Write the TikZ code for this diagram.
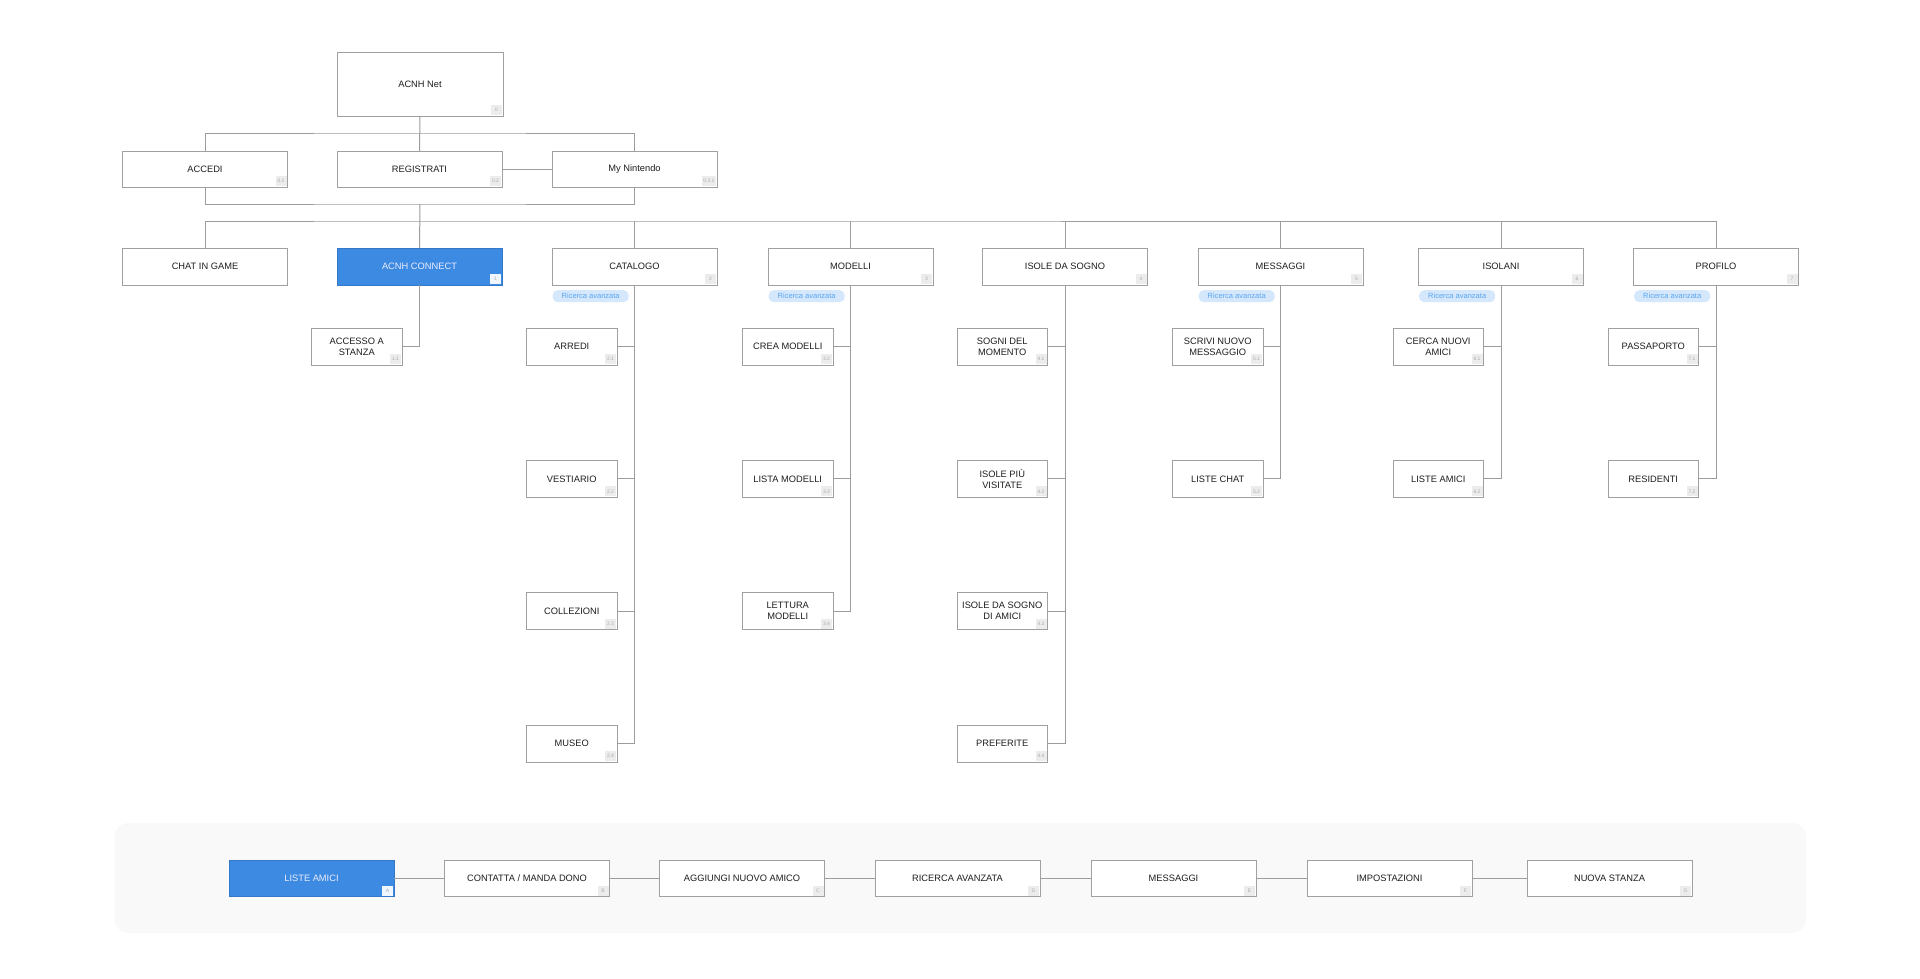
\documentclass[tikz,border=0pt]{standalone}
\usepackage{fontspec}
\setmainfont{Liberation Sans}
\definecolor{linegray}{HTML}{9C9C9C}
\definecolor{boxborder}{HTML}{A0A0A0}
\definecolor{bluefill}{HTML}{3C8AE1}
\definecolor{blueborder}{HTML}{3478C8}
\definecolor{tagfill}{HTML}{ECECEC}
\definecolor{tagtext}{HTML}{ABABAB}
\definecolor{pillfill}{HTML}{D5E7FB}
\definecolor{pilltext}{HTML}{5AA6F2}
\definecolor{panelfill}{HTML}{F9F9F9}
\definecolor{textdark}{HTML}{1E1E1E}
\tikzset{
  conn/.style={draw=linegray, line width=1pt},
  plainbox/.style={draw=boxborder, line width=1pt, fill=white, text=textdark,
    inner sep=2pt, outer sep=0pt, align=center,
    font=\fontsize{9.3}{11}\selectfont},
  bluebox/.style={plainbox, fill=bluefill, draw=blueborder, text=white!93!blue},
  tagbox/.style={fill=tagfill, text=tagtext, inner xsep=1.5pt, inner ysep=0pt,
    minimum width=11pt, minimum height=10pt, outer sep=0pt,
    font=\fontsize{5}{5}\selectfont},
  bluetag/.style={tagbox, fill=white!92!bluefill},
  pill/.style={fill=pillfill, text=pilltext, rounded corners=5pt, inner sep=0pt,
    minimum width=76pt, minimum height=12pt, anchor=north west,
    font=\fontsize{7.5}{8}\selectfont},
}
\newcommand{\acbox}[8]{%
  \node[#8, minimum width=#4pt, minimum height=#5pt, anchor=north west] (#1) at (#2,#3) {#6};
  \node[tagbox, anchor=south east] (#1t) at ([xshift=-1pt,yshift=1pt]#1.south east) {#7};
}
\newcommand{\acblue}[7]{%
  \node[bluebox, minimum width=#4pt, minimum height=#5pt, anchor=north west] (#1) at (#2,#3) {#6};
  \node[bluetag, anchor=south east] (#1t) at ([xshift=-1pt,yshift=1pt]#1.south east) {#7};
}
\begin{document}
\begin{tikzpicture}[x=1pt, y=-1pt]
\useasboundingbox[fill=white] (0,0) rectangle (1920,978);

% bottom panel
\draw[fill=panelfill, draw=none, rounded corners=14pt] (114.5,823) rectangle (1806,933);

% top levels
\acbox{net}{337}{52}{166}{64}{ACNH Net}{0}{plainbox}
\acbox{acc}{122.5}{151}{165}{36}{ACCEDI}{0.1}{plainbox}
\acbox{reg}{337}{151}{165}{36}{REGISTRATI}{0.2}{plainbox}
\acbox{myn}{552}{151}{165}{36}{My Nintendo}{0.2.1}{plainbox}

% level 1
\node[plainbox, minimum width=165pt, minimum height=37pt, anchor=north west] (chat) at (122.5,248) {CHAT IN GAME};
\acblue{cnx}{337}{248}{165}{37}{ACNH CONNECT}{1}
\acbox{cat}{552}{248}{165}{37}{CATALOGO}{2}{plainbox}
\acbox{mod}{768}{248}{165}{37}{MODELLI}{3}{plainbox}
\acbox{iso}{982.5}{248}{165}{37}{ISOLE DA SOGNO}{4}{plainbox}
\acbox{msg}{1198}{248}{165}{37}{MESSAGGI}{5}{plainbox}
\acbox{isl}{1418.5}{248}{165}{37}{ISOLANI}{6}{plainbox}
\acbox{prof}{1633.5}{248}{165}{37}{PROFILO}{7}{plainbox}

% pills
\node[pill] (pcat) at (552.5,290) {Ricerca avanzata};
\node[pill] (pmod) at (768.5,290) {Ricerca avanzata};
\node[pill] (pmsg) at (1198.5,290) {Ricerca avanzata};
\node[pill] (pisl) at (1419,290) {Ricerca avanzata};
\node[pill] (pprof) at (1634,290) {Ricerca avanzata};

% children
\acbox{c11}{311.5}{328}{90.5}{37}{ACCESSO A\\STANZA}{1.1}{plainbox}

\acbox{c21}{526.5}{328}{90.5}{37}{ARREDI}{2.1}{plainbox}
\acbox{c22}{526.5}{460.3}{90.5}{37}{VESTIARIO}{2.2}{plainbox}
\acbox{c23}{526.5}{592.7}{90.5}{37}{COLLEZIONI}{2.3}{plainbox}
\acbox{c24}{526.5}{725}{90.5}{37}{MUSEO}{2.4}{plainbox}

\acbox{c32}{742.5}{328}{90.5}{37}{CREA MODELLI}{3.2}{plainbox}
\acbox{c33}{742.5}{460.3}{90.5}{37}{LISTA MODELLI}{3.3}{plainbox}
\acbox{c34}{742.5}{592.7}{90.5}{37}{LETTURA\\MODELLI}{3.4}{plainbox}

\acbox{c41}{957}{328}{90.5}{37}{SOGNI DEL\\MOMENTO}{4.1}{plainbox}
\acbox{c42}{957}{460.3}{90.5}{37}{ISOLE PIÙ\\VISITATE}{4.2}{plainbox}
\acbox{c43}{957}{592.7}{90.5}{37}{ISOLE DA SOGNO\\DI AMICI}{4.3}{plainbox}
\acbox{c44}{957}{725}{90.5}{37}{PREFERITE}{4.4}{plainbox}

\acbox{c51}{1172.5}{328}{90.5}{37}{SCRIVI NUOVO\\MESSAGGIO}{5.1}{plainbox}
\acbox{c52}{1172.5}{460.3}{90.5}{37}{LISTE CHAT}{5.2}{plainbox}

\acbox{c61}{1393}{328}{90.5}{37}{CERCA NUOVI\\AMICI}{6.1}{plainbox}
\acbox{c62}{1393}{460.3}{90.5}{37}{LISTE AMICI}{6.2}{plainbox}

\acbox{c71}{1608}{328}{90.5}{37}{PASSAPORTO}{7.1}{plainbox}
\acbox{c72}{1608}{460.3}{90.5}{37}{RESIDENTI}{7.2}{plainbox}

% bottom row
\acblue{b1}{229}{860}{165}{36.5}{LISTE AMICI}{A}
\acbox{b2}{444.5}{860}{165}{36.5}{CONTATTA / MANDA DONO}{B}{plainbox}
\acbox{b3}{659.5}{860}{165}{36.5}{AGGIUNGI NUOVO AMICO}{C}{plainbox}
\acbox{b4}{875}{860}{165}{36.5}{RICERCA AVANZATA}{D}{plainbox}
\acbox{b5}{1091}{860}{165}{36.5}{MESSAGGI}{E}{plainbox}
\acbox{b6}{1307}{860}{165}{36.5}{IMPOSTAZIONI}{F}{plainbox}
\acbox{b7}{1527}{860}{165}{36.5}{NUOVA STANZA}{G}{plainbox}

% connectors top
\coordinate (busA) at (420,133);
\coordinate (busB) at (420,204);
\coordinate (busC) at (420,221);
\draw[conn] (net.south) -- (reg.north);
\draw[conn] (acc.north) |- (busA) -| (myn.north);
\draw[conn] (reg.east) -- (myn.west);
\draw[conn] (acc.south) |- (busB) -| (myn.south);
\draw[conn] (busB) -- (cnx.north);
\draw[conn] (chat.north) |- (busC) -| (prof.north);
\foreach \n in {cat,mod,iso,msg,isl}{
  \draw[conn] (\n.north) -- (\n.north |- busC);
}

% child connectors
\draw[conn] (cnx.south) |- (c11.east);
\draw[conn] (cat.south) |- (c24.east);
\foreach \c in {c21,c22,c23}{\draw[conn] (\c.east) -- (\c.east -| cat.south);}
\draw[conn] (mod.south) |- (c34.east);
\foreach \c in {c32,c33}{\draw[conn] (\c.east) -- (\c.east -| mod.south);}
\draw[conn] (iso.south) |- (c44.east);
\foreach \c in {c41,c42,c43}{\draw[conn] (\c.east) -- (\c.east -| iso.south);}
\draw[conn] (msg.south) |- (c52.east);
\draw[conn] (c51.east) -- (c51.east -| msg.south);
\draw[conn] (isl.south) |- (c62.east);
\draw[conn] (c61.east) -- (c61.east -| isl.south);
\draw[conn] (prof.south) |- (c72.east);
\draw[conn] (c71.east) -- (c71.east -| prof.south);

% bottom row connectors
\draw[conn] (b1.east) -- (b2.west);
\draw[conn] (b2.east) -- (b3.west);
\draw[conn] (b3.east) -- (b4.west);
\draw[conn] (b4.east) -- (b5.west);
\draw[conn] (b5.east) -- (b6.west);
\draw[conn] (b6.east) -- (b7.west);
\end{tikzpicture}
\end{document}
